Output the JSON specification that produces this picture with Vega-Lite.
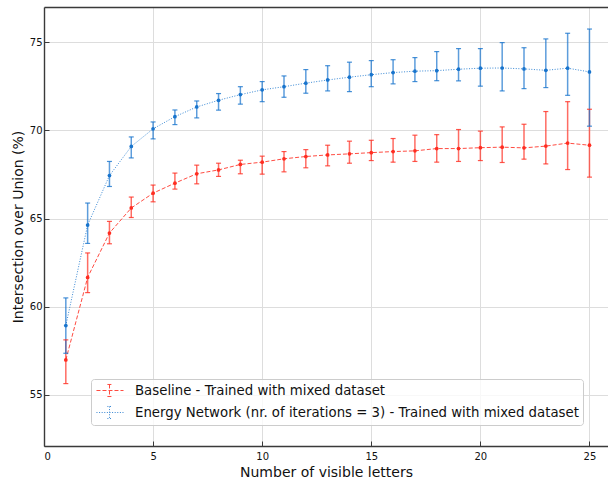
{
  "$schema": "https://vega.github.io/schema/vega-lite/v6.json",
  "width": 564,
  "height": 439,
  "autosize": {"type": "none"},
  "padding": {"left": 44, "top": 7, "right": 0, "bottom": 32},
  "config": {
    "font": "DejaVu Sans",
    "view": {"stroke": null},
    "axis": {
      "domainColor": "#3a3a3a",
      "domainWidth": 1.4,
      "tickColor": "#3a3a3a",
      "tickSize": -5,
      "tickWidth": 1,
      "labelFontSize": 10,
      "labelColor": "#111111",
      "titleFontSize": 14,
      "titleFontWeight": "normal",
      "titleColor": "#111111",
      "gridColor": "#dddddd",
      "gridWidth": 1
    }
  },
  "datasets": {
    "d": [
      {"x": 1, "series": "Baseline - Trained with mixed dataset", "mean": 56.98, "lo": 55.64, "hi": 58.12},
      {"x": 2, "series": "Baseline - Trained with mixed dataset", "mean": 61.66, "lo": 60.8, "hi": 63.05},
      {"x": 3, "series": "Baseline - Trained with mixed dataset", "mean": 64.18, "lo": 63.57, "hi": 64.84},
      {"x": 4, "series": "Baseline - Trained with mixed dataset", "mean": 65.6, "lo": 65.06, "hi": 66.22},
      {"x": 5, "series": "Baseline - Trained with mixed dataset", "mean": 66.44, "lo": 65.95, "hi": 66.9},
      {"x": 6, "series": "Baseline - Trained with mixed dataset", "mean": 67.01, "lo": 66.67, "hi": 67.58},
      {"x": 7, "series": "Baseline - Trained with mixed dataset", "mean": 67.54, "lo": 66.97, "hi": 68.03},
      {"x": 8, "series": "Baseline - Trained with mixed dataset", "mean": 67.76, "lo": 67.39, "hi": 68.14},
      {"x": 9, "series": "Baseline - Trained with mixed dataset", "mean": 68.07, "lo": 67.54, "hi": 68.31},
      {"x": 10, "series": "Baseline - Trained with mixed dataset", "mean": 68.2, "lo": 67.52, "hi": 68.54},
      {"x": 11, "series": "Baseline - Trained with mixed dataset", "mean": 68.39, "lo": 67.65, "hi": 68.8},
      {"x": 12, "series": "Baseline - Trained with mixed dataset", "mean": 68.52, "lo": 67.88, "hi": 68.91},
      {"x": 13, "series": "Baseline - Trained with mixed dataset", "mean": 68.61, "lo": 67.99, "hi": 69.16},
      {"x": 14, "series": "Baseline - Trained with mixed dataset", "mean": 68.67, "lo": 68.14, "hi": 69.39},
      {"x": 15, "series": "Baseline - Trained with mixed dataset", "mean": 68.74, "lo": 68.29, "hi": 69.44},
      {"x": 16, "series": "Baseline - Trained with mixed dataset", "mean": 68.8, "lo": 68.2, "hi": 69.54},
      {"x": 17, "series": "Baseline - Trained with mixed dataset", "mean": 68.84, "lo": 68.24, "hi": 69.73},
      {"x": 18, "series": "Baseline - Trained with mixed dataset", "mean": 68.97, "lo": 68.2, "hi": 69.76},
      {"x": 19, "series": "Baseline - Trained with mixed dataset", "mean": 68.97, "lo": 68.24, "hi": 70.05},
      {"x": 20, "series": "Baseline - Trained with mixed dataset", "mean": 69.02, "lo": 68.29, "hi": 69.96},
      {"x": 21, "series": "Baseline - Trained with mixed dataset", "mean": 69.05, "lo": 68.18, "hi": 70.2},
      {"x": 22, "series": "Baseline - Trained with mixed dataset", "mean": 69.01, "lo": 68.37, "hi": 70.35},
      {"x": 23, "series": "Baseline - Trained with mixed dataset", "mean": 69.11, "lo": 68.1, "hi": 71.07},
      {"x": 24, "series": "Baseline - Trained with mixed dataset", "mean": 69.28, "lo": 67.78, "hi": 71.63},
      {"x": 25, "series": "Baseline - Trained with mixed dataset", "mean": 69.16, "lo": 67.35, "hi": 71.2},
      {"x": 1, "series": "Energy Network (nr. of iterations = 3) - Trained with mixed dataset", "mean": 58.93, "lo": 57.36, "hi": 60.5},
      {"x": 2, "series": "Energy Network (nr. of iterations = 3) - Trained with mixed dataset", "mean": 64.63, "lo": 63.59, "hi": 65.88},
      {"x": 3, "series": "Energy Network (nr. of iterations = 3) - Trained with mixed dataset", "mean": 67.44, "lo": 66.82, "hi": 68.24},
      {"x": 4, "series": "Energy Network (nr. of iterations = 3) - Trained with mixed dataset", "mean": 69.09, "lo": 68.44, "hi": 69.63},
      {"x": 5, "series": "Energy Network (nr. of iterations = 3) - Trained with mixed dataset", "mean": 70.09, "lo": 69.52, "hi": 70.48},
      {"x": 6, "series": "Energy Network (nr. of iterations = 3) - Trained with mixed dataset", "mean": 70.78, "lo": 70.33, "hi": 71.16},
      {"x": 7, "series": "Energy Network (nr. of iterations = 3) - Trained with mixed dataset", "mean": 71.33, "lo": 70.71, "hi": 71.67},
      {"x": 8, "series": "Energy Network (nr. of iterations = 3) - Trained with mixed dataset", "mean": 71.71, "lo": 71.15, "hi": 72.09},
      {"x": 9, "series": "Energy Network (nr. of iterations = 3) - Trained with mixed dataset", "mean": 72.03, "lo": 71.49, "hi": 72.48},
      {"x": 10, "series": "Energy Network (nr. of iterations = 3) - Trained with mixed dataset", "mean": 72.3, "lo": 71.63, "hi": 72.77},
      {"x": 11, "series": "Energy Network (nr. of iterations = 3) - Trained with mixed dataset", "mean": 72.48, "lo": 71.88, "hi": 73.09},
      {"x": 12, "series": "Energy Network (nr. of iterations = 3) - Trained with mixed dataset", "mean": 72.68, "lo": 72.11, "hi": 73.45},
      {"x": 13, "series": "Energy Network (nr. of iterations = 3) - Trained with mixed dataset", "mean": 72.86, "lo": 72.24, "hi": 73.67},
      {"x": 14, "series": "Energy Network (nr. of iterations = 3) - Trained with mixed dataset", "mean": 73.02, "lo": 72.2, "hi": 73.87},
      {"x": 15, "series": "Energy Network (nr. of iterations = 3) - Trained with mixed dataset", "mean": 73.16, "lo": 72.48, "hi": 73.96},
      {"x": 16, "series": "Energy Network (nr. of iterations = 3) - Trained with mixed dataset", "mean": 73.28, "lo": 72.64, "hi": 74.01},
      {"x": 17, "series": "Energy Network (nr. of iterations = 3) - Trained with mixed dataset", "mean": 73.36, "lo": 72.77, "hi": 74.13},
      {"x": 18, "series": "Energy Network (nr. of iterations = 3) - Trained with mixed dataset", "mean": 73.39, "lo": 72.82, "hi": 74.47},
      {"x": 19, "series": "Energy Network (nr. of iterations = 3) - Trained with mixed dataset", "mean": 73.47, "lo": 72.81, "hi": 74.64},
      {"x": 20, "series": "Energy Network (nr. of iterations = 3) - Trained with mixed dataset", "mean": 73.53, "lo": 72.51, "hi": 74.64},
      {"x": 21, "series": "Energy Network (nr. of iterations = 3) - Trained with mixed dataset", "mean": 73.54, "lo": 72.24, "hi": 74.98},
      {"x": 22, "series": "Energy Network (nr. of iterations = 3) - Trained with mixed dataset", "mean": 73.49, "lo": 72.37, "hi": 74.69},
      {"x": 23, "series": "Energy Network (nr. of iterations = 3) - Trained with mixed dataset", "mean": 73.41, "lo": 72.43, "hi": 75.19},
      {"x": 24, "series": "Energy Network (nr. of iterations = 3) - Trained with mixed dataset", "mean": 73.53, "lo": 71.99, "hi": 75.51},
      {"x": 25, "series": "Energy Network (nr. of iterations = 3) - Trained with mixed dataset", "mean": 73.32, "lo": 70.24, "hi": 75.75}
    ]
  },
  "data": {"name": "d"},
  "resolve": {"axis": {"x": "independent"}},
  "layer": [
    {
      "mark": {"type": "line", "strokeWidth": 1, "opacity": 0.85},
      "encoding": {
        "x": {"field": "x", "type": "quantitative",
              "scale": {"domain": [0, 25.85], "nice": false, "zero": false},
              "axis": {"values": [0, 5, 10, 15, 20, 25], "title": "Number of visible letters", "labelPadding": 10, "titlePadding": 4, "grid": true}},
        "y": {"field": "mean", "type": "quantitative",
              "scale": {"domain": [52.1, 77.0], "nice": false, "zero": false},
              "axis": {"values": [55, 60, 65, 70, 75], "title": "Intersection over Union (%)", "labelPadding": 7, "titlePadding": 4, "grid": true}},
        "color": {"field": "series", "type": "nominal",
                  "scale": {"domain": ["Baseline - Trained with mixed dataset", "Energy Network (nr. of iterations = 3) - Trained with mixed dataset"], "range": ["#ff2d21", "#1874cd"]},
                  "legend": {"title": null, "orient": "none", "legendX": 47, "legendY": 372,
                             "labelFontSize": 13.3, "labelColor": "#111111", "labelLimit": 600,
                             "symbolType": "M-0.86,0H3M1,-0.86V0.86M0.7,-0.86H1.3M0.7,0.86H1.3",
                             "symbolSize": 196, "symbolStrokeWidth": 1, "labelOffset": 25,
                             "rowPadding": 5, "padding": 4,
                             "strokeColor": "#cccccc", "fillColor": "rgba(255,255,255,0.8)", "cornerRadius": 3}},
        "strokeDash": {"field": "series", "type": "nominal",
                       "scale": {"domain": ["Baseline - Trained with mixed dataset", "Energy Network (nr. of iterations = 3) - Trained with mixed dataset"], "range": [[4, 2], [1, 1.6]]},
                       "legend": {"title": null}}
      }
    },
    {
      "mark": {"type": "rule", "strokeWidth": 1.5, "opacity": 0.7},
      "encoding": {
        "x": {"field": "x", "type": "quantitative",
              "axis": {"orient": "top", "labels": false, "ticks": false, "grid": false, "title": null, "domain": true}},
        "y": {"field": "lo", "type": "quantitative"},
        "y2": {"field": "hi"},
        "color": {"field": "series", "type": "nominal"}
      }
    },
    {
      "mark": {"type": "tick", "orient": "horizontal", "size": 5, "thickness": 1.2, "opacity": 0.8},
      "encoding": {
        "x": {"field": "x", "type": "quantitative", "axis": null},
        "y": {"field": "lo", "type": "quantitative"},
        "color": {"field": "series", "type": "nominal"}
      }
    },
    {
      "mark": {"type": "tick", "orient": "horizontal", "size": 5, "thickness": 1.2, "opacity": 0.8},
      "encoding": {
        "x": {"field": "x", "type": "quantitative", "axis": null},
        "y": {"field": "hi", "type": "quantitative"},
        "color": {"field": "series", "type": "nominal"}
      }
    },
    {
      "mark": {"type": "point", "filled": true, "size": 14, "opacity": 1},
      "encoding": {
        "x": {"field": "x", "type": "quantitative", "axis": null},
        "y": {"field": "mean", "type": "quantitative"},
        "color": {"field": "series", "type": "nominal"}
      }
    }
  ]
}
